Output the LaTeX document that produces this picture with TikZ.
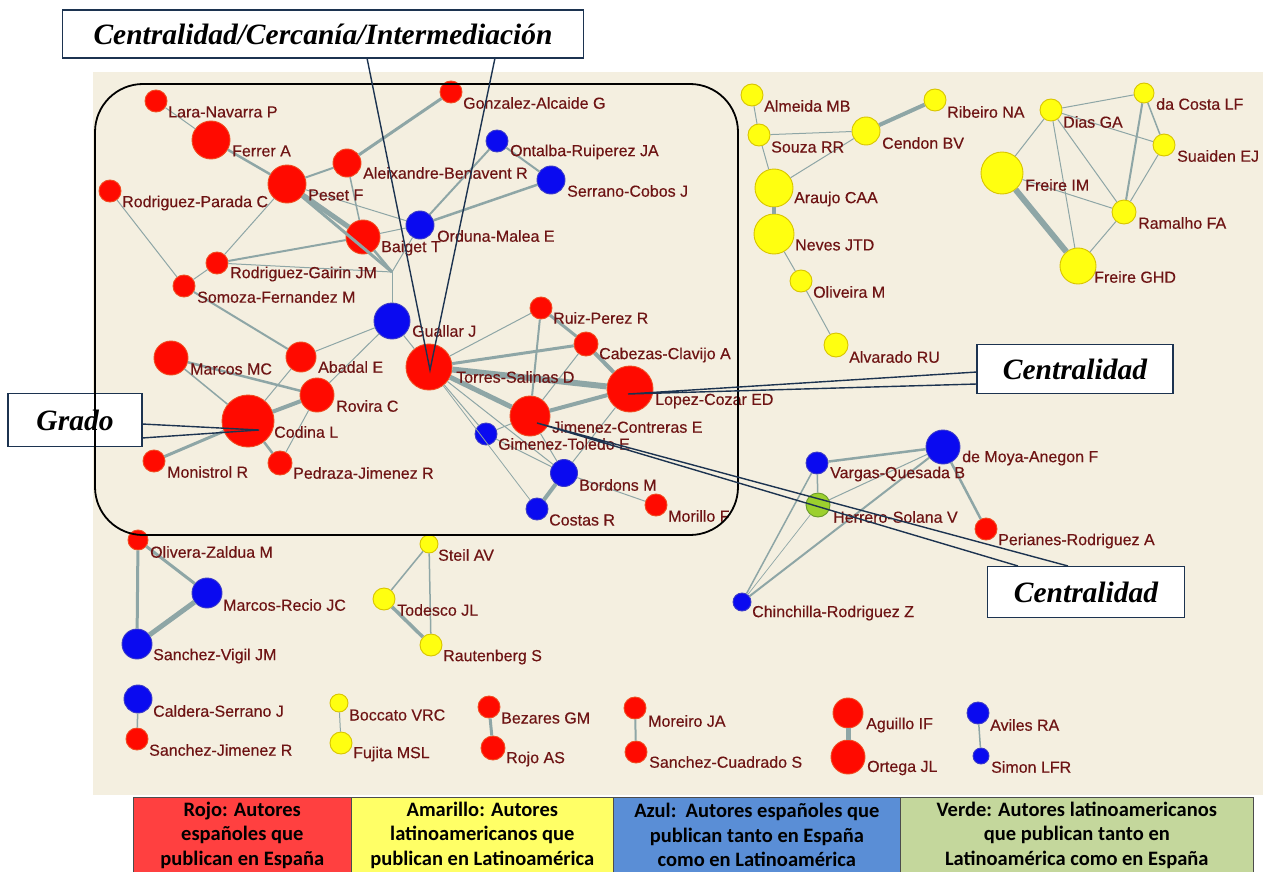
\documentclass[tikz,border=0pt]{standalone}
\usepackage{fontspec}
\setmainfont{Liberation Sans}
\newfontfamily\lblfont[FakeBold=0.35]{Liberation Sans}
\newfontfamily\legfont{Carlito}
\newfontfamily\calfont{Liberation Serif}
\definecolor{bgc}{HTML}{F4EFE0}
\definecolor{edgec}{HTML}{8EA6A6}
\definecolor{lblc}{HTML}{6E1414}
\definecolor{nred}{HTML}{FF0A00}
\definecolor{nredb}{HTML}{F04A20}
\definecolor{nblue}{HTML}{0A0AF0}
\definecolor{nblueb}{HTML}{3A3AC8}
\definecolor{nyel}{HTML}{FFFF10}
\definecolor{nyelb}{HTML}{D8C400}
\definecolor{ngrn}{HTML}{9CD02E}
\definecolor{ngrnb}{HTML}{6A9A2A}
\definecolor{navy}{HTML}{1C3350}
\definecolor{legred}{HTML}{FF4040}
\definecolor{legyel}{HTML}{FFFF66}
\definecolor{legblue}{HTML}{5A8ED6}
\definecolor{leggrn}{HTML}{C4D79C}
\tikzset{
  anode/.style={circle,inner sep=0pt,line width=0.9pt,minimum size=#1},
  rn/.style={anode=#1,fill=nred,draw=nredb},
  bn/.style={anode=#1,fill=nblue,draw=nblueb},
  yn/.style={anode=#1,fill=nyel,draw=nyelb},
  gn/.style={anode=#1,fill=ngrn,draw=ngrnb},
  lbl/.style={anchor=west,inner sep=0pt,text=lblc,font=\lblfont\fontsize{16}{16}\selectfont},
  lk/.style={draw=edgec,line width=#1},
  legcell/.style={draw=black!70,line width=0.6pt,anchor=north west,minimum height=76pt,
    align=center,inner sep=1pt,font=\legfont\bfseries\fontsize{20.5}{24.5}\selectfont},
  callbox/.style={draw=navy,line width=1.4pt,fill=white,inner sep=0pt,
    font=\calfont\bfseries\itshape\fontsize{29.5}{29.5}\selectfont},
  callline/.style={draw=navy,line width=1.4pt}
}
\begin{document}
\begin{tikzpicture}[x=1pt,y=-1pt]
\useasboundingbox (0,0) rectangle (1263,872);
\fill[white] (0,0) rectangle (1263,872);
\fill[bgc] (93,72) rectangle (1263,795);

% ---- main Spanish cluster: nodes
\node[rn=22pt] (lara) at (156,101) {};
\node[rn=38pt] (ferrer) at (211,140) {};
\node[rn=38pt] (peset) at (287,184) {};
\node[rn=22pt] (rparada) at (110,191) {};
\node[rn=28pt] (aleix) at (347,163) {};
\node[rn=22pt] (gonz) at (451,92) {};
\node[bn=22pt] (ontalba) at (497,141) {};
\node[bn=28pt] (serrano) at (551,180) {};
\node[rn=34pt] (baiget) at (363,237) {};
\node[bn=28pt] (orduna) at (420,225) {};
\node[rn=22pt] (gairin) at (217,263) {};
\node[rn=22pt] (somoza) at (184,286) {};
\coordinate (hub) at (392,272);
\node[bn=36pt] (gualar) at (392,321) {};
\node[rn=34pt] (marcosmc) at (171,358) {};
\node[rn=30pt] (abadal) at (301,357) {};
\node[rn=34pt] (rovira) at (317,395) {};
\node[rn=52pt] (codina) at (248,421) {};
\node[rn=22pt] (monis) at (154,461) {};
\node[rn=24pt] (pedraza) at (280,463) {};
\node[rn=46pt] (torres) at (429,367) {};
\node[rn=22pt] (ruiz) at (541,308) {};
\node[rn=24pt] (cabezas) at (586,344) {};
\node[rn=46pt] (lopez) at (630,389) {};
\node[rn=40pt] (jimenez) at (530,416) {};
\node[bn=22pt] (gimenez) at (486,434) {};
\node[bn=27pt] (bordons) at (564,473) {};
\node[bn=22pt] (costas) at (537,509) {};
\node[rn=22pt] (morillo) at (656,505) {};

% ---- Brazilian clusters: nodes
\node[yn=22pt] (almeida) at (752,95) {};
\node[yn=22pt] (souza) at (759,135) {};
\node[yn=28pt] (cendon) at (866,131) {};
\node[yn=22pt] (ribeiro) at (935,100) {};
\node[yn=38pt] (araujo) at (774,188) {};
\node[yn=40pt] (neves) at (774,234) {};
\node[yn=22pt] (oliveira) at (801,281) {};
\node[yn=24pt] (alvarado) at (836,345) {};
\node[yn=22pt] (dias) at (1051,110) {};
\node[yn=20pt] (dacosta) at (1144,93) {};
\node[yn=22pt] (suaiden) at (1164,145) {};
\node[yn=42pt] (freireim) at (1002,173) {};
\node[yn=24pt] (ramalho) at (1124,212) {};
\node[yn=36pt] (freireghd) at (1078,266) {};

% ---- Granada cluster: nodes
\node[bn=34pt] (moya) at (943,447) {};
\node[bn=22pt] (vargas) at (817,463) {};
\node[gn=24pt] (herrero) at (818,505) {};
\node[rn=22pt] (perianes) at (986,529) {};
\node[bn=18pt] (chinch) at (742,602) {};

% ---- small components: nodes
\node[rn=20pt] (olivera) at (138,540) {};
\node[bn=30pt] (mrecio) at (207,593) {};
\node[bn=30pt] (svigil) at (137,644) {};
\node[yn=18pt] (steil) at (429,544) {};
\node[yn=22pt] (todesco) at (384,599) {};
\node[yn=22pt] (rauten) at (431,645) {};
\node[bn=28pt] (caldera) at (138,699) {};
\node[rn=22pt] (sjimenez) at (137,739) {};
\node[yn=18pt] (boccato) at (339,703) {};
\node[yn=22pt] (fujita) at (341,743) {};
\node[rn=22pt] (bezares) at (489,707) {};
\node[rn=24pt] (rojo) at (493,748) {};
\node[rn=22pt] (moreiro) at (635,708) {};
\node[rn=22pt] (scuadrado) at (636,752) {};
\node[rn=30pt] (aguillo) at (848,713) {};
\node[rn=34pt] (ortega) at (848,757) {};
\node[bn=22pt] (aviles) at (978,713) {};
\node[bn=16pt] (simon) at (981,756) {};

% ---- co-authorship links (ending at the circle borders)
\draw[lk=1pt] (lara) -- (ferrer);
\draw[lk=2.5pt] (ferrer) -- (peset);
\draw[lk=2pt] (peset) -- (aleix);
\draw[lk=3pt] (aleix) -- (gonz);
\draw[lk=5pt] (peset) -- (baiget);
\draw[lk=3pt] (peset) -- (hub);
\draw[lk=2.5pt] (baiget) -- (hub);
\draw[lk=1pt] (peset) -- (orduna);
\draw[lk=1pt] (peset) -- (gairin);
\draw[lk=1.5pt] (aleix) -- (baiget);
\draw[lk=2pt] (gairin) -- (baiget);
\draw[lk=1pt] (gairin) -- (hub);
\draw[lk=1pt] (baiget) -- (orduna);
\draw[lk=2pt] (orduna) -- (ontalba);
\draw[lk=2.5pt] (orduna) -- (serrano);
\draw[lk=2pt] (ontalba) -- (serrano);
\draw[lk=1pt] (orduna) -- (hub);
\draw[lk=1pt] (hub) -- (gualar);
\draw[lk=1pt] (rparada) -- (somoza);
\draw[lk=1pt] (somoza) -- (gairin);
\draw[lk=2pt] (somoza) -- (abadal);
\draw[lk=1pt] (gualar) -- (abadal);
\draw[lk=1pt] (gualar) -- (rovira);
\draw[lk=1pt] (gualar) -- (torres);
\draw[lk=1pt] (abadal) -- (codina);
\draw[lk=2.5pt] (marcosmc) -- (rovira);
\draw[lk=1.5pt] (marcosmc) -- (codina);
\draw[lk=4pt] (rovira) -- (codina);
\draw[lk=1pt] (rovira) -- (pedraza);
\draw[lk=3pt] (codina) -- (monis);
\draw[lk=2.5pt] (codina) -- (pedraza);
\draw[lk=1pt] (torres) -- (ruiz);
\draw[lk=3pt] (torres) -- (cabezas);
\draw[lk=6pt] (torres) -- (lopez);
\draw[lk=5pt] (torres) -- (jimenez);
\draw[lk=1pt] (torres) -- (gimenez);
\draw[lk=1pt] (torres) -- (bordons);
\draw[lk=0.8pt] (torres) -- (costas);
\draw[lk=2pt] (ruiz) -- (jimenez);
\draw[lk=3pt] (ruiz) -- (cabezas);
\draw[lk=4pt] (cabezas) -- (lopez);
\draw[lk=1pt] (cabezas) -- (jimenez);
\draw[lk=4pt] (jimenez) -- (lopez);
\draw[lk=1pt] (jimenez) -- (gimenez);
\draw[lk=1pt] (jimenez) -- (bordons);
\draw[lk=1pt] (lopez) -- (bordons);
\draw[lk=4pt] (bordons) -- (costas);
\draw[lk=1pt] (bordons) -- (morillo);
\draw[lk=1pt] (gimenez) -- (bordons);

\draw[lk=1pt] (almeida) -- (souza);
\draw[lk=1pt] (souza) -- (cendon);
\draw[lk=4pt] (cendon) -- (ribeiro);
\draw[lk=1pt] (souza) -- (araujo);
\draw[lk=1pt] (cendon) -- (araujo);
\draw[lk=4pt] (araujo) -- (neves);
\draw[lk=1pt] (neves) -- (oliveira);
\draw[lk=1pt] (oliveira) -- (alvarado);
\draw[lk=1pt] (dias) -- (dacosta);
\draw[lk=1pt] (dias) -- (suaiden);
\draw[lk=1pt] (dias) -- (freireim);
\draw[lk=1pt] (dias) -- (freireghd);
\draw[lk=1pt] (dias) -- (ramalho);
\draw[lk=1.5pt] (dacosta) -- (suaiden);
\draw[lk=2pt] (dacosta) -- (ramalho);
\draw[lk=1pt] (suaiden) -- (ramalho);
\draw[lk=1pt] (freireim) -- (ramalho);
\draw[lk=6pt] (freireim) -- (freireghd);
\draw[lk=1pt] (ramalho) -- (freireghd);

\draw[lk=2.5pt] (vargas) -- (moya);
\draw[lk=1.5pt] (vargas) -- (herrero);
\draw[lk=1.5pt] (vargas) -- (chinch);
\draw[lk=1pt] (moya) -- (herrero);
\draw[lk=2pt] (moya) -- (chinch);
\draw[lk=2.5pt] (moya) -- (perianes);
\draw[lk=0.7pt] (herrero) -- (chinch);

\draw[lk=3pt] (olivera) -- (mrecio);
\draw[lk=3pt] (olivera) -- (svigil);
\draw[lk=5pt] (mrecio) -- (svigil);
\draw[lk=1.5pt] (steil) -- (todesco);
\draw[lk=1.5pt] (steil) -- (rauten);
\draw[lk=3.5pt] (todesco) -- (rauten);
\draw[lk=1.5pt] (caldera) -- (sjimenez);
\draw[lk=1pt] (boccato) -- (fujita);
\draw[lk=3pt] (bezares) -- (rojo);
\draw[lk=2pt] (moreiro) -- (scuadrado);
\draw[lk=5pt] (aguillo) -- (ortega);
\draw[lk=1.5pt] (aviles) -- (simon);

% ---- author labels
\node[lbl] (lara-l) at (168,112) {Lara-Navarra P};
\node[lbl] (ferrer-l) at (232,151) {Ferrer A};
\node[lbl] (peset-l) at (308,195) {Peset F};
\node[lbl] (rparada-l) at (122,203) {Rodriguez-Parada C};
\node[lbl] (aleix-l) at (363,173) {Aleixandre-Benavent R};
\node[lbl] (gonz-l) at (463,103) {Gonzalez-Alcaide G};
\node[lbl] (ontalba-l) at (510,152) {Ontalba-Ruiperez JA};
\node[lbl] (serrano-l) at (567,191) {Serrano-Cobos J};
\node[lbl] (baiget-l) at (381,248) {Baiget T};
\node[lbl] (orduna-l) at (437,236) {Orduna-Malea E};
\node[lbl] (gairin-l) at (230,274) {Rodriguez-Gairin JM};
\node[lbl] (somoza-l) at (197,297) {Somoza-Fernandez M};
\node[lbl] (gualar-l) at (412,331) {Guallar J};
\node[lbl] (marcosmc-l) at (190,369) {Marcos MC};
\node[lbl] (abadal-l) at (318,367) {Abadal E};
\node[lbl] (rovira-l) at (336,406) {Rovira C};
\node[lbl] (codina-l) at (274,432) {Codina L};
\node[lbl] (monis-l) at (167,472) {Monistrol R};
\node[lbl] (pedraza-l) at (293,473) {Pedraza-Jimenez R};
\node[lbl] (torres-l) at (456,377) {Torres-Salinas D};
\node[lbl] (ruiz-l) at (553,318) {Ruiz-Perez R};
\node[lbl] (cabezas-l) at (599,355) {Cabezas-Clavijo A};
\node[lbl] (lopez-l) at (655,401) {Lopez-Cozar ED};
\node[lbl] (jimenez-l) at (552,427) {Jimenez-Contreras E};
\node[lbl] (gimenez-l) at (498,444) {Gimenez-Toledo E};
\node[lbl] (bordons-l) at (579,485) {Bordons M};
\node[lbl] (costas-l) at (549,520) {Costas R};
\node[lbl] (morillo-l) at (668,516) {Morillo F};

\node[lbl] (almeida-l) at (764,106) {Almeida MB};
\node[lbl] (souza-l) at (771,147) {Souza RR};
\node[lbl] (cendon-l) at (882,143) {Cendon BV};
\node[lbl] (ribeiro-l) at (947,112) {Ribeiro NA};
\node[lbl] (araujo-l) at (794,199) {Araujo CAA};
\node[lbl] (neves-l) at (795,245) {Neves JTD};
\node[lbl] (oliveira-l) at (813,292) {Oliveira M};
\node[lbl] (alvarado-l) at (849,357) {Alvarado RU};
\node[lbl] (dias-l) at (1063,122) {Dias GA};
\node[lbl] (dacosta-l) at (1156,104) {da Costa LF};
\node[lbl] (suaiden-l) at (1177,156) {Suaiden EJ};
\node[lbl] (freireim-l) at (1025,185) {Freire IM};
\node[lbl] (ramalho-l) at (1138,223) {Ramalho FA};
\node[lbl] (freireghd-l) at (1094,277) {Freire GHD};

\node[lbl] (moya-l) at (962,458) {de Moya-Anegon F};
\node[lbl] (vargas-l) at (830,474) {Vargas-Quesada B};
\node[lbl] (herrero-l) at (833,517) {Herrero-Solana V};
\node[lbl] (perianes-l) at (998,541) {Perianes-Rodriguez A};
\node[lbl] (chinch-l) at (752,613) {Chinchilla-Rodriguez Z};

\node[lbl] (olivera-l) at (150,552) {Olivera-Zaldua M};
\node[lbl] (mrecio-l) at (223,605) {Marcos-Recio JC};
\node[lbl] (svigil-l) at (153,656) {Sanchez-Vigil JM};
\node[lbl] (steil-l) at (438,555) {Steil AV};
\node[lbl] (todesco-l) at (397,610) {Todesco JL};
\node[lbl] (rauten-l) at (443,657) {Rautenberg S};
\node[lbl] (caldera-l) at (153,711) {Caldera-Serrano J};
\node[lbl] (sjimenez-l) at (149,750) {Sanchez-Jimenez R};
\node[lbl] (boccato-l) at (349,715) {Boccato VRC};
\node[lbl] (fujita-l) at (353,754) {Fujita MSL};
\node[lbl] (bezares-l) at (501,718) {Bezares GM};
\node[lbl] (rojo-l) at (506,759) {Rojo AS};
\node[lbl] (moreiro-l) at (648,721) {Moreiro JA};
\node[lbl] (scuadrado-l) at (649,762) {Sanchez-Cuadrado S};
\node[lbl] (aguillo-l) at (866,725) {Aguillo IF};
\node[lbl] (ortega-l) at (867,768) {Ortega JL};
\node[lbl] (aviles-l) at (990,725) {Aviles RA};
\node[lbl] (simon-l) at (991,767) {Simon LFR};

% ---- colour legend
\node[legcell,fill=legred,minimum width=218pt] (legr) at (133,797)
  {Rojo: Autores\\españoles que\\publican en España};
\node[legcell,fill=legyel,minimum width=262pt] (legy) at (351,797)
  {Amarillo: Autores\\latinoamericanos que\\publican en Latinoamérica};
\node[legcell,fill=legblue,minimum width=287pt] (legb) at (613,797)
  {Azul:\ \ Autores españoles que\\publican tanto en España\\como en Latinoamérica};
\node[legcell,fill=leggrn,minimum width=353pt] (legg) at (900,797)
  {Verde: Autores latinoamericanos\\que publican tanto en\\Latinoamérica como en España};

% ---- callouts
\node[callbox,minimum width=134pt,minimum height=53pt] (grado) at (75,420) {Grado};
\draw[line width=1.8pt,rounded corners=48pt] (95,84) rectangle (738,535);
\coordinate (gradoA) at (142,424);
\coordinate (gradoB) at (142,438);
\coordinate (codinaP) at (259,430);
\draw[callline] (gradoA) -- (codinaP) -- (gradoB);

\node[callbox,minimum width=521pt,minimum height=48pt] (topbox) at (323,34)
  {Centralidad/Cercanía/Intermediación};
\coordinate (topA) at (367,58);
\coordinate (topB) at (495,58);
\coordinate (torresP) at (430,370);
\draw[callline] (topA) -- (torresP) -- (topB);

\node[callbox,minimum width=196pt,minimum height=49pt] (cenR) at (1075,369) {Centralidad};
\coordinate (cenRA) at (977,372);
\coordinate (cenRB) at (977,384);
\coordinate (lopezP) at (628,394);
\draw[callline] (cenRA) -- (lopezP) -- (cenRB);

\coordinate (jimP) at (537,423);
\coordinate (cenBA) at (1018,566);
\coordinate (cenBB) at (1068,566);
\draw[callline] (cenBA) -- (jimP) -- (cenBB);
\node[callbox,minimum width=197pt,minimum height=51pt] (cenB) at (1086,592) {Centralidad};
\end{tikzpicture}
\end{document}
